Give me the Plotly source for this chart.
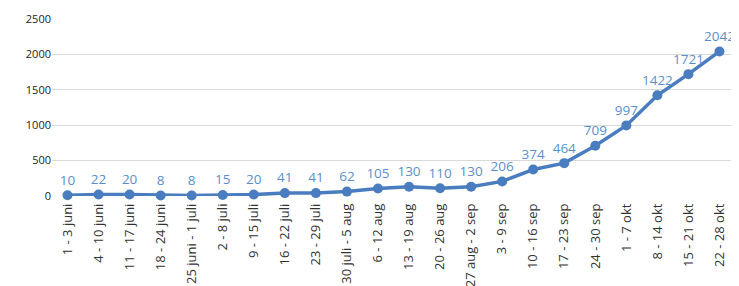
import plotly.graph_objects as go

categories = ["1 - 3 juni", "4 - 10 juni", "11 - 17 juni", "18 - 24 juni", "25 juni - 1 juli",
              "2 - 8 juli", "9 - 15 juli", "16 - 22 juli", "23 - 29 juli", "30 juli - 5 aug",
              "6 - 12 aug", "13 - 19 aug", "20 - 26 aug", "27 aug - 2 sep", "3 - 9 sep",
              "10 - 16 sep", "17 - 23 sep", "24 - 30 sep", "1 - 7 okt", "8 - 14 okt",
              "15 - 21 okt", "22 - 28 okt"]
values = [10, 22, 20, 8, 8, 15, 20, 41, 41, 62, 105, 130, 110, 130, 206, 374, 464, 709, 997, 1422, 1721, 2042]
y_ticks = [0, 500, 1000, 1500, 2000, 2500]

fig = go.Figure(go.Scatter(
    x=categories, y=values, mode="lines+markers+text",
    text=[str(v) for v in values], textposition="top center",
    textfont=dict(family="Open Sans, sans-serif", size=13.5, color="#5B8FCB"),
    line=dict(color="#4A7DBF", width=3.5),
    marker=dict(color="#4A7DBF", size=10),
    cliponaxis=False,
))

fig.update_layout(
    width=731, height=278,
    margin=dict(l=44, r=4, t=11, b=90),
    paper_bgcolor="white", plot_bgcolor="white",
    showlegend=False,
    xaxis=dict(
        type="category", tickangle=-90, showgrid=False, showline=False, automargin=False,
        tickfont=dict(family="Open Sans, sans-serif", size=13, color="#333333"),
        ticks="", ticklabelstandoff=4, range=[-0.5, len(categories) - 0.5],
    ),
    yaxis=dict(
        range=[0, 2500], tickvals=y_ticks, showgrid=True, gridcolor="#D9D9D9", automargin=False,
        zeroline=False, tickfont=dict(family="Open Sans, sans-serif", size=11, color="#222222"),
        ticks="", ticklen=0,
    ),
)

fig.write_html("out.html")
